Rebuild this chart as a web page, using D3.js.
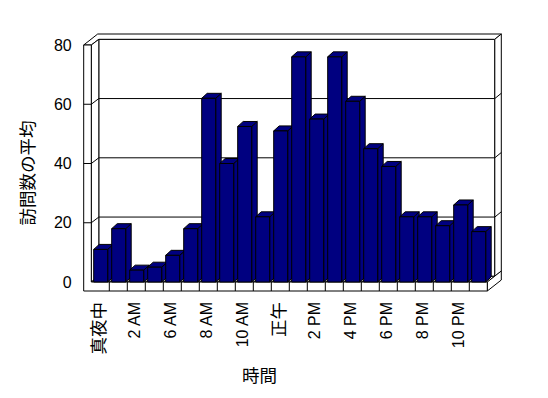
<!DOCTYPE html>
<html>
<head>
<meta charset="utf-8">
<script src="https://cdn.jsdelivr.net/npm/d3@7"></script>
<style>
  body { margin: 0; background: #fff; }
  svg text { font-family: "Liberation Sans", "Noto Sans CJK JP", sans-serif; fill: #000; }
</style>
</head>
<body>
<svg id="chart" width="548" height="398"></svg>
<script>
// hours (every other label is shown, like the original)
const hours = ['真夜中', '1 AM', '2 AM', '5 AM', '6 AM', '7 AM', '8 AM', '9 AM', '10 AM', '11 AM',
    '正午', '1 PM', '2 PM', '3 PM', '4 PM', '5 PM', '6 PM', '7 PM', '8 PM', '9 PM', '10 PM', '11 PM'];
const visits = [11, 18, 4, 5, 9, 18, 62, 40, 52.5, 22, 51, 76, 55, 76, 61, 45, 39, 22, 22, 19, 26, 17];
const yTicks = [0, 20, 40, 60, 80];
const yTitle = '訪問数の平均';
const xTitle = '時間';

const svg = d3.select('#chart');

// oblique 3d offsets (screen px)
const depth = { dx: 7.5, dy: -5.7 };   // front -> back wall surface
const thick = { dx: 6.5, dy: -5.3 };   // back wall thickness
const barDepth = { dx: 5.5, dy: -5 };
const wallW = 7.6;   // left wall thickness
const floorH = 9;    // floor thickness

const x = d3.scaleBand().domain(hours).range([91.3, 487.3]);
const y = d3.scaleLinear().domain([0, 80]).range([282, 45]);

const xLeft = x.range()[0], xRight = x.range()[1];
const x0 = xLeft - wallW;
const yTop = y(80), yBase = y(0);
const tdx = depth.dx + thick.dx, tdy = depth.dy + thick.dy;

const line = d3.line();
const g = svg.append('g')
    .attr('fill', '#fff')
    .attr('stroke', '#000')
    .attr('stroke-width', 1);

// back wall front face
g.append('path').attr('d', line([
    [xLeft + depth.dx, yTop + depth.dy], [xRight + depth.dx, yTop + depth.dy],
    [xRight + depth.dx, yBase + depth.dy], [xLeft + depth.dx, yBase + depth.dy]]) + 'Z');
// top of walls
g.append('path').attr('d', line([
    [x0, yTop], [x0 + tdx, yTop + tdy], [xRight + tdx, yTop + tdy],
    [xRight + depth.dx, yTop + depth.dy], [xLeft + depth.dx, yTop + depth.dy], [xLeft, yTop]]) + 'Z');
// back wall right end
g.append('path').attr('d', line([
    [xRight + depth.dx, yTop + depth.dy], [xRight + tdx, yTop + tdy],
    [xRight + tdx, yBase + tdy], [xRight + depth.dx, yBase + depth.dy]]) + 'Z');
// left wall inner face
g.append('path').attr('d', line([
    [xLeft, yTop], [xLeft + depth.dx, yTop + depth.dy],
    [xLeft + depth.dx, yBase + depth.dy], [xLeft, yBase]]) + 'Z');
// floor top
g.append('path').attr('d', line([
    [xLeft, yBase], [xRight, yBase], [xRight + depth.dx, yBase + depth.dy], [xLeft + depth.dx, yBase + depth.dy]]) + 'Z');
// floor right side
g.append('path').attr('d', line([
    [xRight, yBase], [xRight + tdx, yBase + tdy], [xRight + tdx, yBase + floorH + tdy], [xRight, yBase + floorH]]) + 'Z');
// left wall front + floor front (one L shape)
g.append('path').attr('d', line([
    [x0, yTop], [xLeft, yTop], [xLeft, yBase], [xRight, yBase],
    [xRight, yBase + floorH], [x0, yBase + floorH]]) + 'Z');

// gridlines across both walls
const grid = yTicks.filter(v => v > 0 && v < 80);
g.selectAll('.grid').data(grid).join('path')
    .attr('class', 'grid')
    .attr('fill', 'none')
    .attr('d', v => line([
        [x0, y(v)], [xLeft, y(v)], [xLeft + depth.dx, y(v) + depth.dy],
        [xRight + depth.dx, y(v) + depth.dy], [xRight + tdx, y(v) + tdy]]));

// category dividers on the floor
const bounds = hours.slice(1).map(h => x(h));
g.selectAll('.div').data(bounds).join('path')
    .attr('class', 'div')
    .attr('fill', 'none')
    .attr('d', d => line([[d + depth.dx, yBase + depth.dy], [d, yBase], [d, yBase + floorH]]));

// bars, drawn left to right so each front covers the previous side
const bw = 14, boff = 2.4;
const bars = svg.append('g')
    .attr('fill', '#000080')
    .attr('stroke', '#000')
    .attr('stroke-width', 1)
    .attr('stroke-linejoin', 'round');
hours.forEach((h, i) => {
    const bx = x(h) + boff, by = y(visits[i]);
    const b = bars.append('g');
    b.append('path').attr('d', line([
        [bx + bw, by], [bx + bw + barDepth.dx, by + barDepth.dy],
        [bx + bw + barDepth.dx, yBase + barDepth.dy], [bx + bw, yBase]]) + 'Z');
    b.append('path').attr('d', line([
        [bx, by], [bx + barDepth.dx, by + barDepth.dy],
        [bx + bw + barDepth.dx, by + barDepth.dy], [bx + bw, by]]) + 'Z');
    b.append('rect').attr('x', bx).attr('y', by).attr('width', bw).attr('height', yBase - by);
});

// y axis labels
svg.append('g')
    .attr('transform', `translate(${x0 - 4},0)`)
    .call(d3.axisLeft(y).tickValues(yTicks).tickSize(0).tickPadding(8))
    .call(s => s.select('.domain').remove())
    .selectAll('text')
    .attr('font-size', 16)
    .style('font-family', '"Liberation Sans", "Noto Sans CJK JP", sans-serif');

// x labels, every other hour
const cjk = /[^\x00-\x7f]/;
svg.append('g').selectAll('text')
    .data(hours.filter((h, i) => i % 2 === 0))
    .join('text')
    .attr('transform', h => `translate(${x(h) + x.bandwidth() / 2 - 1.5},302) rotate(-90)`)
    .attr('text-anchor', 'end')
    .attr('dy', '0.35em')
    .attr('font-size', h => cjk.test(h) ? 17.5 : 16)
    .text(h => h);

svg.append('text')
    .attr('transform', 'translate(28,173) rotate(-90)')
    .attr('text-anchor', 'middle')
    .attr('dy', '0.35em')
    .attr('font-size', 17.5)
    .text(yTitle);

svg.append('text')
    .attr('x', 259.5)
    .attr('y', 376)
    .attr('text-anchor', 'middle')
    .attr('dy', '0.35em')
    .attr('font-size', 17.5)
    .text(xTitle);
</script>
</body>
</html>
